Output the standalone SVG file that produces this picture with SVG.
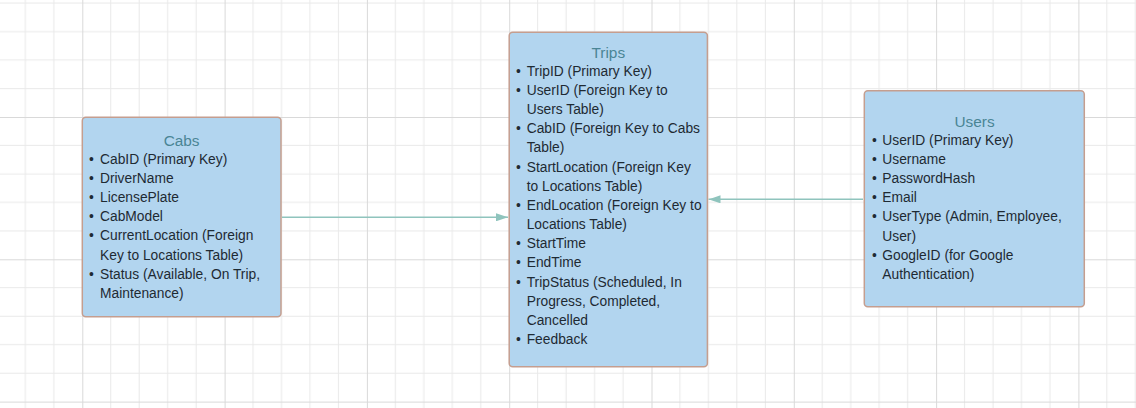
<svg xmlns="http://www.w3.org/2000/svg" width="1136" height="408" viewBox="0 0 1136 408">
<style>
.box{fill:#b2d5ef;stroke:#c59e8f;stroke-width:1.5}
.title{font-family:"Liberation Sans",Arial,sans-serif;font-size:15.4px;fill:#4a8595;text-anchor:middle}
.body{font-family:"Liberation Sans",Arial,sans-serif;font-size:13.8px;fill:#1e2a33}
.conn{stroke:#8fc4bd;stroke-width:1.5;fill:none}
</style>
<defs>
<pattern id="grid" patternUnits="userSpaceOnUse" x="82.3" y="117" width="142.3" height="142.3">
<path d="M28.46 0V142.3M56.92 0V142.3M85.38 0V142.3M113.84 0V142.3M0 28.46H142.3M0 56.92H142.3M0 85.38H142.3M0 113.84H142.3" stroke="#e9e9e9" stroke-width="1" fill="none"/>
<path d="M0.5 0V142.3M0 0.5H142.3" stroke="#d9d9d9" stroke-width="1" fill="none"/>
</pattern>
<marker id="arrow" viewBox="0 0 12 8" refX="12" refY="4" markerWidth="12" markerHeight="8" markerUnits="userSpaceOnUse" orient="auto">
<path d="M0 0L12 4L0 8Z" fill="#8fc4bd"/>
</marker>
</defs>
<rect width="1136" height="408" fill="#ffffff"/>
<rect width="1136" height="408" fill="url(#grid)"/>

<g id="connectors">
<line class="conn" x1="282" y1="217.3" x2="508" y2="217.3" marker-end="url(#arrow)"/>
<line class="conn" x1="863" y1="199.3" x2="708.5" y2="199.3" marker-end="url(#arrow)"/>
</g>

<g id="cabs">
<rect class="box" x="82.3" y="117.3" width="198.7" height="199.4" rx="3.5"/>
<text class="title" x="181.6" y="145.5">Cabs</text>
<g class="body">
<text x="89" y="164">•</text><text x="100" y="164">CabID (Primary Key)</text>
<text x="89" y="183.1">•</text><text x="100" y="183.1">DriverName</text>
<text x="89" y="202.2">•</text><text x="100" y="202.2">LicensePlate</text>
<text x="89" y="221.3">•</text><text x="100" y="221.3">CabModel</text>
<text x="89" y="240.4">•</text><text x="100" y="240.4">CurrentLocation (Foreign</text>
<text x="100" y="259.5">Key to Locations Table)</text>
<text x="89" y="278.6">•</text><text x="100" y="278.6">Status (Available, On Trip,</text>
<text x="100" y="297.7">Maintenance)</text>
</g>
</g>

<g id="trips">
<rect class="box" x="509.2" y="32.3" width="198.2" height="334.4" rx="3.5"/>
<text class="title" x="608.3" y="58.3">Trips</text>
<g class="body">
<text x="516" y="75.7">•</text><text x="526.7" y="75.7">TripID (Primary Key)</text>
<text x="516" y="94.9">•</text><text x="526.7" y="94.9">UserID (Foreign Key to</text>
<text x="526.7" y="114.0">Users Table)</text>
<text x="516" y="133.2">•</text><text x="526.7" y="133.2">CabID (Foreign Key to Cabs</text>
<text x="526.7" y="152.3">Table)</text>
<text x="516" y="171.5">•</text><text x="526.7" y="171.5">StartLocation (Foreign Key</text>
<text x="526.7" y="190.7">to Locations Table)</text>
<text x="516" y="209.8">•</text><text x="526.7" y="209.8">EndLocation (Foreign Key to</text>
<text x="526.7" y="229.0">Locations Table)</text>
<text x="516" y="248.1">•</text><text x="526.7" y="248.1">StartTime</text>
<text x="516" y="267.3">•</text><text x="526.7" y="267.3">EndTime</text>
<text x="516" y="286.5">•</text><text x="526.7" y="286.5">TripStatus (Scheduled, In</text>
<text x="526.7" y="305.6">Progress, Completed,</text>
<text x="526.7" y="324.8">Cancelled</text>
<text x="516" y="343.9">•</text><text x="526.7" y="343.9">Feedback</text>
</g>
</g>

<g id="users">
<rect class="box" x="864.3" y="90.7" width="220" height="216" rx="3.5"/>
<text class="title" x="974.5" y="126.7">Users</text>
<g class="body">
<text x="872" y="145">•</text><text x="882.3" y="145">UserID (Primary Key)</text>
<text x="872" y="164.1">•</text><text x="882.3" y="164.1">Username</text>
<text x="872" y="183.2">•</text><text x="882.3" y="183.2">PasswordHash</text>
<text x="872" y="202.3">•</text><text x="882.3" y="202.3">Email</text>
<text x="872" y="221.4">•</text><text x="882.3" y="221.4">UserType (Admin, Employee,</text>
<text x="882.3" y="240.5">User)</text>
<text x="872" y="259.6">•</text><text x="882.3" y="259.6">GoogleID (for Google</text>
<text x="882.3" y="278.7">Authentication)</text>
</g>
</g>
</svg>
